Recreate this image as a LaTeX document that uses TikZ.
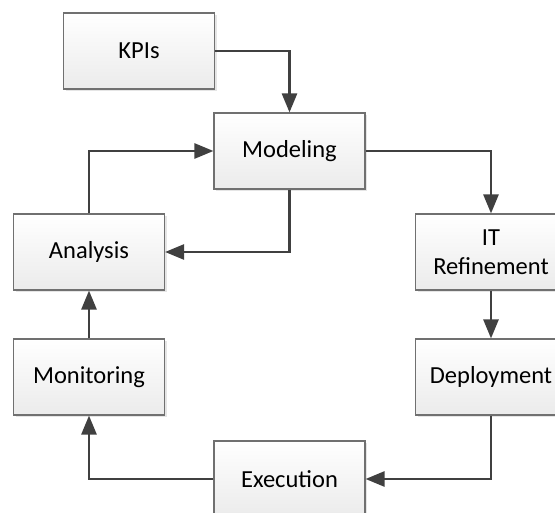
\documentclass[tikz,border=0pt]{standalone}
\usepackage{fontspec}
\setmainfont{Carlito}
\usetikzlibrary{arrows.meta,shadows}
\definecolor{boxline}{HTML}{707070}
\definecolor{boxbot}{HTML}{EBEBEB}
\definecolor{conn}{HTML}{404040}
\tikzset{
  procbox/.style={draw=boxline, line width=1.1pt, top color=white, bottom color=boxbot,
    minimum width=151pt, minimum height=76pt, inner sep=0pt, align=center,
    font=\fontsize{24.5}{29}\selectfont,
    drop shadow={shadow xshift=2pt, shadow yshift=-2pt, fill=black!10, opacity=1}},
  conn/.style={draw=conn, line width=2.6pt, -{Triangle[length=19pt,width=15pt]}}
}
\begin{document}
\begin{tikzpicture}[x=1pt,y=-1pt]
\useasboundingbox (0,0) rectangle (555,513);
\clip (0,0) rectangle (555,513);
\node[procbox] (kpi) at (139,51) {KPIs};
\node[procbox] (mod) at (289.5,151) {Modeling};
\node[procbox] (it) at (491,252) {IT\\Refinement};
\node[procbox] (dep) at (491,377) {Deployment};
\node[procbox] (exe) at (289.5,479) {Execution};
\node[procbox] (mon) at (89,377) {Monitoring};
\node[procbox] (ana) at (89,252) {Analysis};
\draw[conn] (kpi.east) -| (mod.north);
\draw[conn] (mod.east) -| (it.north);
\draw[conn] (it.south) -- (dep.north);
\draw[conn] (dep.south) |- (exe.east);
\draw[conn] (exe.west) -| (mon.south);
\draw[conn] (mon.north) -- (ana.south);
\draw[conn] (mod.south) |- (ana.east);
\draw[conn] (ana.north) |- (mod.west);
\end{tikzpicture}
\end{document}
